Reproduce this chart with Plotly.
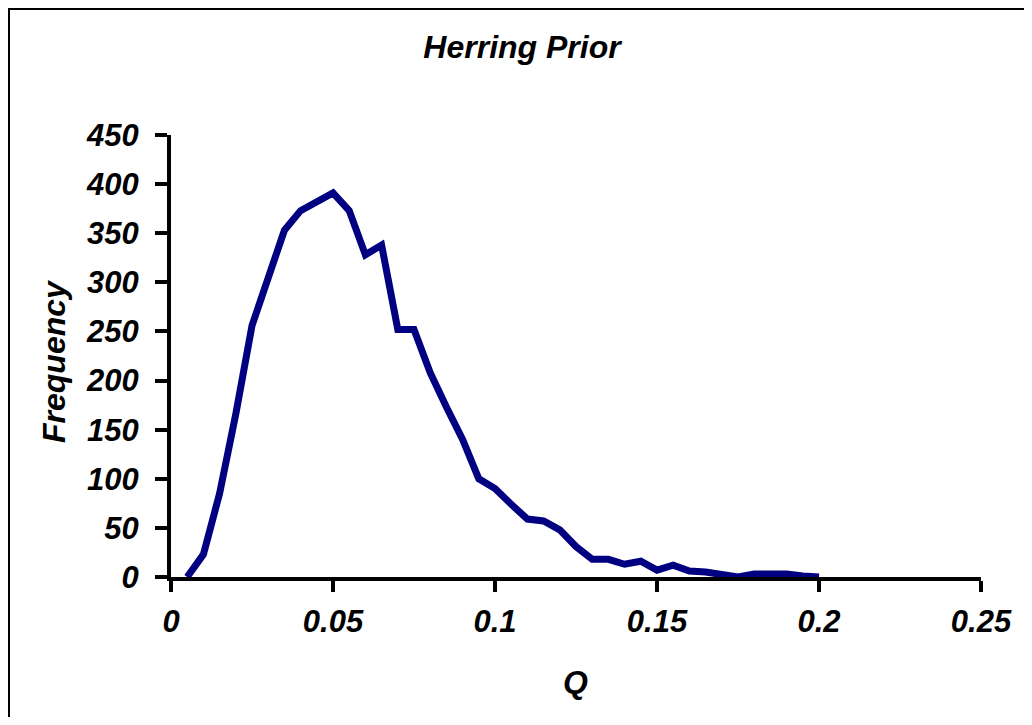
import plotly.graph_objects as go

# Data
q_values = [0.005, 0.010, 0.015, 0.020, 0.025, 0.030, 0.035, 0.040, 0.045, 0.050,
            0.055, 0.060, 0.065, 0.070, 0.075, 0.080, 0.085, 0.090, 0.095, 0.100,
            0.105, 0.110, 0.115, 0.120, 0.125, 0.130, 0.135, 0.140, 0.145, 0.150,
            0.155, 0.160, 0.165, 0.170, 0.175, 0.180, 0.185, 0.190, 0.195, 0.200]
frequency = [0, 23, 85, 166, 256, 303, 353, 373, 383, 391,
             373, 328, 338, 252, 252, 208, 173, 140, 100, 90,
             74, 59, 57, 48, 31, 18, 18, 13, 16, 7,
             12, 6, 5, 3, 0, 3, 3, 3, 1, 0]

x_ticks = [0, 0.05, 0.1, 0.15, 0.2, 0.25]
x_tick_labels = ["0", "0.05", "0.1", "0.15", "0.2", "0.25"]
y_ticks = [0, 50, 100, 150, 200, 250, 300, 350, 400, 450]
y_tick_labels = [str(v) for v in y_ticks]

# page offset of the figure (browser default body margin)
OFF = 8
W, H = 1032 - 2 * OFF, 725 - 2 * OFF
PLOT_L, PLOT_R, PLOT_T, PLOT_B = 171 - OFF, 981 - OFF, 135 - OFF, 577 - OFF
L, R, T, B = PLOT_L, W - PLOT_R, PLOT_T, H - PLOT_B
PW = PLOT_R - PLOT_L
PH = PLOT_B - PLOT_T


def px_x(p):
    return (p - OFF - PLOT_L) / PW


def px_y(p):
    return (PLOT_B - (p - OFF)) / PH


FONT = "Liberation Sans, Arial, sans-serif"
TXT = dict(family=FONT, color="black", weight="bold", style="italic")

fig = go.Figure()
fig.add_trace(go.Scatter(
    x=q_values, y=frequency, mode="lines",
    line=dict(color="#000080", width=7),
    showlegend=False, hoverinfo="skip",
))

fig.update_layout(
    width=W, height=H,
    margin=dict(l=L, r=R, t=T, b=B),
    paper_bgcolor="white", plot_bgcolor="white",
    title=dict(
        text="Herring Prior", x=(522 - OFF) / W, xref="container", xanchor="center",
        y=1 - (47 - OFF) / H, yref="container", yanchor="middle",
        font=dict(size=32, **TXT),
    ),
    xaxis=dict(
        range=[0, 0.25], tickvals=x_ticks, ticktext=x_tick_labels,
        showline=True, linecolor="black", linewidth=4,
        ticks="outside", ticklen=11, tickwidth=4, tickcolor="black",
        showgrid=False, zeroline=False, ticklabelstandoff=3,
        tickfont=dict(size=31, **TXT),
        fixedrange=True,
    ),
    yaxis=dict(
        range=[0, 450], tickvals=y_ticks, ticktext=y_tick_labels,
        showline=True, linecolor="black", linewidth=4,
        ticks="outside", ticklen=12, tickwidth=4, tickcolor="black",
        showgrid=False, zeroline=False, ticklabelstandoff=10,
        tickfont=dict(size=31, **TXT),
        fixedrange=True,
    ),
    annotations=[
        dict(text="Frequency", x=px_x(54), y=px_y(361), xref="paper", yref="paper",
             showarrow=False, textangle=-90, xanchor="center", yanchor="middle",
             font=dict(size=32, **TXT)),
        dict(text="Q", x=px_x(575), y=px_y(682), xref="paper", yref="paper",
             showarrow=False, xanchor="center", yanchor="middle",
             font=dict(size=32, **TXT)),
    ],
    shapes=[
        dict(type="rect", xref="paper", yref="paper",
             x0=px_x(9), x1=px_x(1060), y0=px_y(760), y1=px_y(9),
             line=dict(color="black", width=2), fillcolor="rgba(0,0,0,0)", layer="below"),
    ],
)

fig.write_html("out.html")
